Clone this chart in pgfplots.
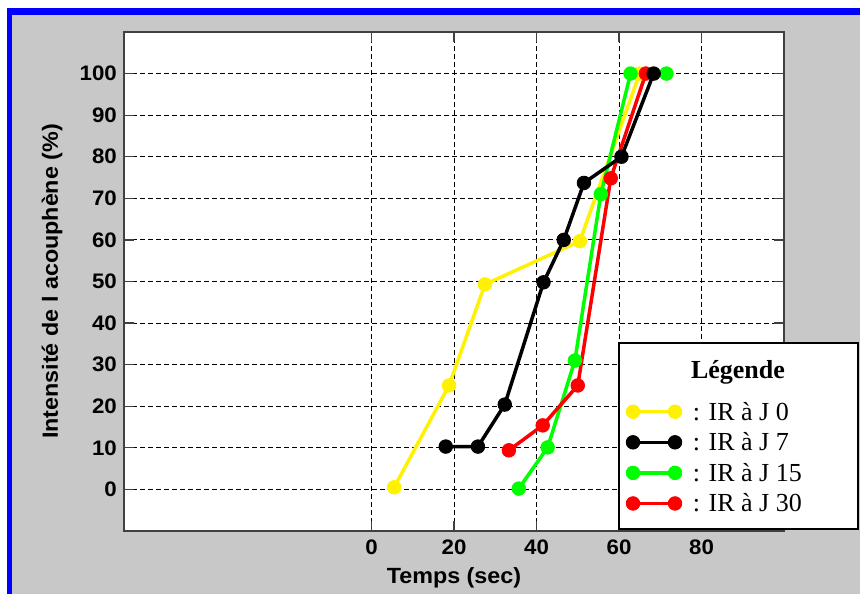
\documentclass[border=0pt]{standalone}
\usepackage{fontspec}
\setmainfont{Liberation Serif}
\newfontfamily\axfont[FakeStretch=1.06]{Liberation Sans}
\usepackage{pgfplots}
\pgfplotsset{compat=1.18}
\definecolor{bgray}{HTML}{C8C8C8}
\definecolor{fblue}{HTML}{0000FF}
\definecolor{axgray}{HTML}{404040}
\pgfplotsset{s/.style={line width=3.5bp, mark=*, mark size=6.8bp, mark options={solid, line width=0.8bp}}}
\begin{document}
\begin{tikzpicture}[x=1bp,y=1bp]
\useasboundingbox (0,0) rectangle (860,594);
\fill[white] (0,0) rectangle (860,594);
\fill[bgray] (7,0) rectangle (860,586);
\fill[fblue] (7,579) rectangle (860,586);
\fill[fblue] (7,0) rectangle (11.5,586);
\begin{axis}[
  at={(124bp,63bp)}, anchor=south west,
  scale only axis, width=660bp, height=499bp,
  xmin=-60, xmax=100, ymin=-10, ymax=110,
  xtick={0,20,40,60,80}, ytick={0,10,...,100},
  grid=major,
  grid style={line width=1bp, draw=black, dash pattern=on 4.5bp off 3.5bp},
  axis line style={line width=1.5bp, draw=axgray},
  tick style={line width=1.2bp, draw=axgray},
  major tick length=10bp,
  tick align=inside,
  axis background/.style={fill=white},
  /pgf/number format/assume math mode=true,
  ticklabel style={font=\axfont\bfseries\fontsize{21bp}{25bp}\selectfont, inner sep=0pt},
  xticklabel style={anchor=north, yshift=-9bp},
  yticklabel style={anchor=east, xshift=-7bp},
  xlabel={Temps (sec)},
  ylabel={Intensité de l acouphène (\%)},
  label style={font=\axfont\bfseries\fontsize{22bp}{26bp}\selectfont},
  xlabel style={at={(axis description cs:0.5,-0.094)}, anchor=center},
  ylabel style={at={(axis description cs:-0.109,0.5)}, anchor=center},
  clip=false,
  legend style={at={(0.7606,0.259)}, anchor=north west, draw=none, fill=none,
    inner sep=0pt, row sep=11bp, font=\fontsize{26bp}{30bp}\selectfont,
    nodes={inner sep=0pt},
    /tikz/every odd column/.append style={column sep=11bp}},
  legend cell align=left,
  legend image code/.code={\draw[#1] plot coordinates {(0bp,0bp) (42bp,0bp)};},
]
\addplot[s, color=yellow, forget plot] coordinates {(5.5,0.5) (18.8,25) (27.5,49.3) (50.5,59.7) (65,100)};
\addplot[s, color=green, forget plot] coordinates {(35.7,0.2) (42.7,10.1) (49.3,31) (55.6,71) (62.8,100) (71.5,100)};
\addplot[s, color=red, forget plot] coordinates {(33.3,9.4) (41.5,15.4) (50,25) (58,74.8) (66.5,100)};
\addplot[s, color=black, forget plot] coordinates {(18,10.3) (25.8,10.3) (32.3,20.4) (41.7,49.8) (46.6,60) (51.5,73.7) (60.6,80) (68.4,100)};
\draw[line width=2bp, draw=black, fill=white] (rel axis cs:0.75,0.004) rectangle (rel axis cs:1.1121,0.3768);
\node[anchor=base, font=\bfseries\fontsize{26bp}{30bp}\selectfont] at (rel axis cs:0.9303,0.306) {Légende};
\addlegendimage{s, color=yellow}
\addlegendentry{: IR à J 0}
\addlegendimage{s, color=black}
\addlegendentry{: IR à J 7}
\addlegendimage{s, color=green}
\addlegendentry{: IR à J 15}
\addlegendimage{s, color=red}
\addlegendentry{: IR à J 30}
\end{axis}
\end{tikzpicture}
\end{document}
